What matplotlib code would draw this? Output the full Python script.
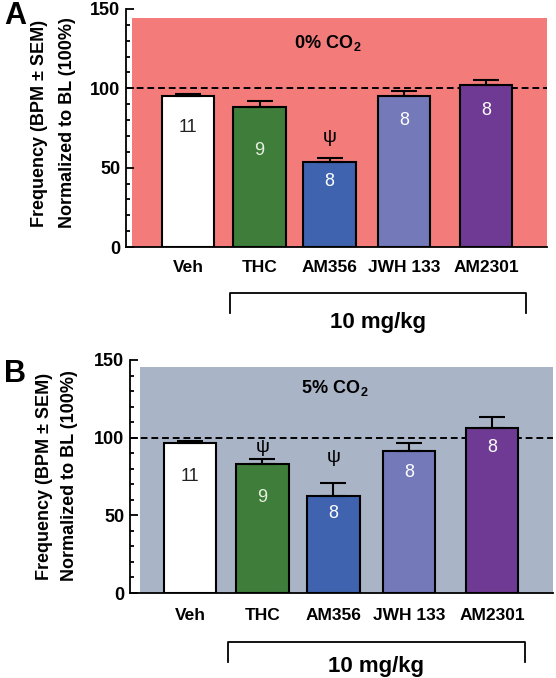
from matplotlib import pyplot as plt
from matplotlib.patches import Rectangle
import numpy as np

plt.rcParams['font.family'] = ['Liberation Sans', 'DejaVu Sans']
plt.rcParams['mathtext.fontset'] = 'custom'
plt.rcParams['mathtext.rm'] = 'Liberation Sans:bold'
plt.rcParams['mathtext.bf'] = 'Liberation Sans:bold'

groups = ['Veh', 'THC', 'AM356', 'JWH 133', 'AM2301']
n_animals = [11, 9, 8, 8, 8]
bar_colors = ['#FFFFFF', '#3E7D3A', '#3F63AF', '#7479B9', '#6E3A93']
num_colors = ['#222222', '#E8F0E0', 'white', 'white', 'white']

# 0% CO2 (panel A)
mean_a = [95.1, 88.2, 53.6, 95.1, 102.1]
sem_a = [1.3, 3.8, 2.5, 3.2, 3.1]
psi_a = [2]

# 5% CO2 (panel B)
mean_b = [96.6, 83.0, 62.5, 91.4, 106.2]
sem_b = [1.3, 3.3, 8.3, 5.2, 7.1]
psi_b = [1, 2]

xpos = np.array([0, 0.96, 1.9, 2.9, 4.0])


def panel(fig, rect, means, sems, psi, psi_y, num_y, bg, bg_rect, xlim,
          co2_text, co2_xy, bracket, label_pad, letter, letter_y, ylab_x, ylab_y):
    ax = fig.add_axes(rect)
    ax.set_facecolor('none')
    ax.add_patch(Rectangle((bg_rect[0], 0), 1 - bg_rect[0], bg_rect[1],
                           transform=ax.transAxes, facecolor=bg, edgecolor='none', zorder=0))
    ax.axhline(100, color='k', ls='--', lw=1.4, dashes=(3.5, 2), zorder=1)
    ax.bar(xpos, means, width=0.7, color=bar_colors, edgecolor='k', linewidth=1.5, zorder=2)
    ax.errorbar(xpos, means, yerr=[np.zeros(len(sems)), sems], fmt='none', ecolor='k',
                elinewidth=1.5, capsize=9.5, capthick=1.5, zorder=3)
    for i in range(len(groups)):
        ax.text(xpos[i], num_y[i], str(n_animals[i]), ha='center', va='center',
                fontsize=13, color=num_colors[i], zorder=4)
    for k, i in enumerate(psi):
        ax.text(xpos[i], psi_y[k], '\u03c8', ha='center', va='center', fontsize=14, zorder=4)
    ax.text(co2_xy[0], co2_xy[1], co2_text, ha='center', va='center', fontsize=13,
            fontweight='bold')

    ax.set_xlim(*xlim)
    ax.set_ylim(0, 150)
    ax.set_yticks([0, 50, 100, 150])
    ax.set_yticks(np.arange(0, 151, 10), minor=True)
    ax.tick_params(axis='y', which='major', direction='in', length=6, width=1.3,
                   labelsize=13, pad=4)
    ax.tick_params(axis='y', which='minor', direction='in', length=3, width=1.3)
    for t in ax.get_yticklabels():
        t.set_fontweight('bold')
    ax.set_xticks(xpos)
    ax.set_xticklabels(groups, fontsize=12.5, fontweight='bold')
    ax.tick_params(axis='x', length=0, pad=label_pad)
    ax.spines['top'].set_visible(False)
    ax.spines['right'].set_visible(False)
    ax.spines['left'].set_linewidth(1.3)
    ax.spines['bottom'].set_linewidth(1.3)

    # bracket for the 10 mg/kg groups
    x0, x1, ytop, ybot, ytext = bracket
    ax.plot([x0, x0, x1, x1], [ybot, ytop, ytop, ybot], color='k', lw=1.3, clip_on=False)
    ax.text((x0 + x1) / 2, ytext, '10 mg/kg', ha='center', va='center', fontsize=16,
            fontweight='bold', clip_on=False)

    fig.text(15 / 556, letter_y, letter, ha='center', va='center', fontsize=22,
             fontweight='bold')
    fig.text(ylab_x[0], ylab_y, 'Frequency (BPM \u00b1 SEM)', rotation=90, ha='center',
             va='center', fontsize=13, fontweight='bold')
    fig.text(ylab_x[1], ylab_y, 'Normalized to BL (100%)', rotation=90, ha='center',
             va='center', fontsize=13, fontweight='bold')
    return ax


def main():
    fig = plt.figure(figsize=(5.56, 6.78), dpi=100)

    panel(fig, [126 / 556, 431 / 678, 421 / 556, 238 / 678], mean_a, sem_a, psi_a, [68.7],
          [75, 61, 41, 80, 86], '#F37C7B', (0.014, 0.962), (-0.832, 4.819),
          r'$\mathbf{0\%\ CO_2}$', (1.88, 128.5), (0.56, 4.54, -29, -41.6, -47.5), 9,
          'A', 1 - 16 / 678, (40 / 556, 68 / 556), 1 - 123 / 678)

    panel(fig, [130 / 556, 85 / 678, 423 / 556, 233 / 678], mean_b, sem_b, psi_b, [93.4, 87],
          [74.7, 61.8, 51.5, 77.3, 93.4], '#A9B4C7', (0.024, 0.97), (-0.795, 4.808),
          r'$\mathbf{5\%\ CO_2}$', (1.92, 132), (0.5, 4.44, -31.5, -44.4, -47.5), 11,
          'B', 1 - 374 / 678, (45 / 556, 70 / 556), 1 - 476 / 678)

    plt.savefig('out.png', dpi=100)


if __name__ == '__main__':
    main()
